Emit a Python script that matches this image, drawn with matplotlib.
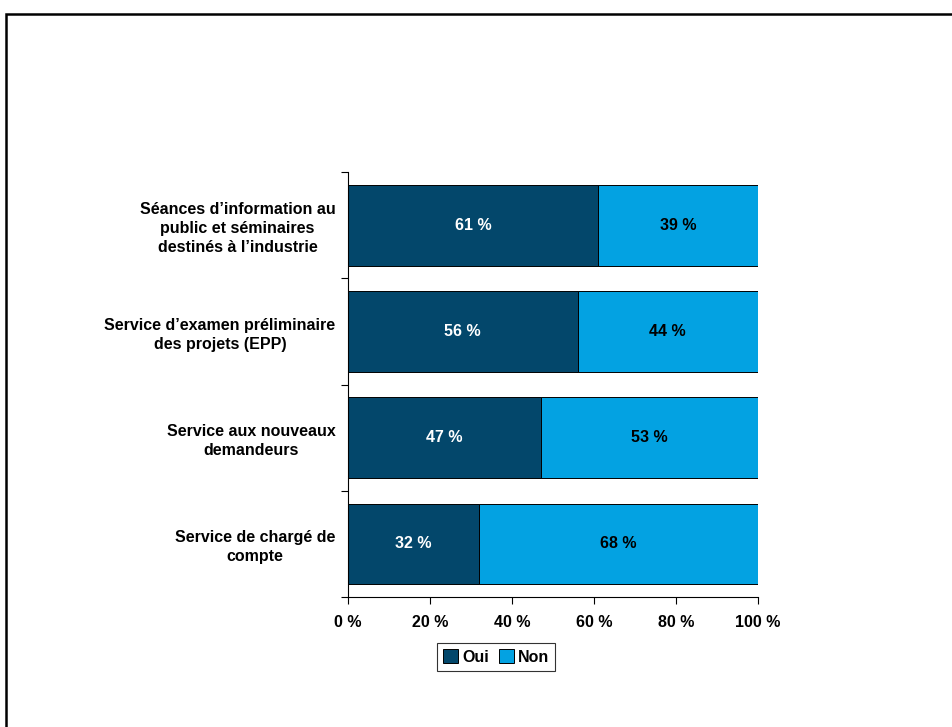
import matplotlib
matplotlib.use("Agg")
import matplotlib.pyplot as plt
from matplotlib.patches import Rectangle
import numpy as np

plt.rcParams['font.family'] = ['Liberation Sans', 'DejaVu Sans']
plt.rcParams['font.weight'] = 'bold'

categories = [
    "Séances d’information au\npublic et séminaires\ndestinés à l’industrie",
    "Service d’examen préliminaire\ndes projets (EPP)",
    "Service aux nouveaux\ndemandeurs",
    "Service de chargé de\ncompte",
]
oui = [61, 56, 47, 32]
non = [39, 44, 53, 68]
xticks = [0, 20, 40, 60, 80, 100]

c_oui = "#03476B"
c_non = "#03A2E2"
fs = 11.5

fig = plt.figure(figsize=(9.53, 7.27), dpi=100)
ax = fig.add_axes([348 / 953, 130 / 727, 410 / 953, 425 / 727])

# outer frame of the page
fig.patches.append(Rectangle((6 / 953, -0.05), 1.1, 1 - 14 / 727 + 0.05,
                             transform=fig.transFigure, fill=False,
                             edgecolor="black", linewidth=1.8))

y = np.arange(len(categories))
h = 0.76
b1 = ax.barh(y, oui, height=h, color=c_oui, edgecolor="black", linewidth=0.7, label="Oui")
b2 = ax.barh(y, non, left=oui, height=h, color=c_non, edgecolor="black", linewidth=0.7, label="Non")

for yi, o, n in zip(y, oui, non):
    ax.text(o / 2, yi, f"{o} %", ha="center", va="center", color="white",
            fontsize=fs, fontweight="bold")
    ax.text(o + n / 2, yi, f"{n} %", ha="center", va="center", color="black",
            fontsize=fs, fontweight="bold")

ax.set_xlim(0, 100)
ax.set_ylim(len(categories) - 0.5, -0.5)
ax.set_xticks(xticks)
ax.set_xticklabels([f"{v} %" for v in xticks], fontsize=fs, fontweight="bold")
ax.tick_params(axis="x", length=5, width=0.8, pad=8)

ax.set_yticks(y)
ax.set_yticklabels(categories, fontsize=fs, fontweight="bold", linespacing=1.32,
                   multialignment="center")
ax.tick_params(axis="y", which="major", length=0, pad=9)
ax.set_yticks(np.arange(-0.5, len(categories)), minor=True)
ax.tick_params(axis="y", which="minor", length=5, width=0.8)

for s in ("top", "right"):
    ax.spines[s].set_visible(False)
for s in ("left", "bottom"):
    ax.spines[s].set_linewidth(0.8)

leg = fig.legend(handles=[b1, b2], labels=["Oui", "Non"], loc="center",
                 bbox_to_anchor=(496 / 953, 1 - 657 / 727), ncol=2,
                 frameon=True, fancybox=False, edgecolor="black",
                 fontsize=fs, handlelength=0.95, handleheight=0.95,
                 handletextpad=0.25, columnspacing=0.6, borderpad=0.4,
                 borderaxespad=0)
leg.get_frame().set_linewidth(0.8)
for t in leg.get_texts():
    t.set_fontweight("bold")

fig.savefig("out.png", dpi=100, facecolor="white")
